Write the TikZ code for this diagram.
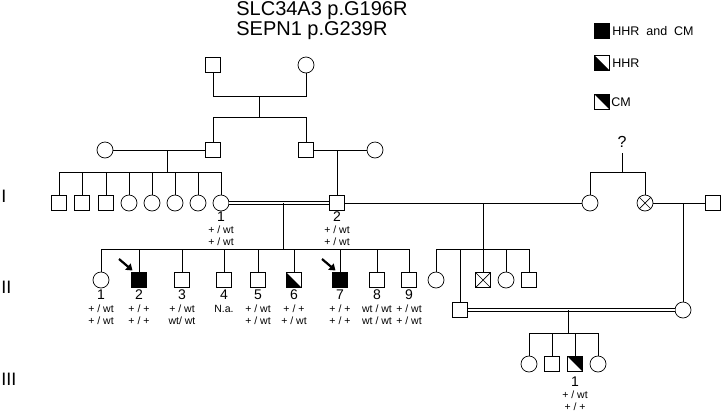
\documentclass[tikz,border=0pt]{standalone}
\usepackage{fontspec}
\setmainfont{Liberation Sans}
\usetikzlibrary{arrows.meta}
\begin{document}
\begin{tikzpicture}[x=1pt,y=-1pt,
  every path/.style={line width=0.7pt},
  sq/.style={draw, line width=0.7pt, rectangle, minimum size=15pt, inner sep=0pt, fill=white},
  ci/.style={draw, line width=0.7pt, circle, minimum size=16pt, inner sep=0pt, fill=white},
  aff/.style={sq, fill=black},
  hhr/.style={sq, path picture={\fill[black] (path picture bounding box.north west) -- (path picture bounding box.south west) -- (path picture bounding box.south east) -- cycle;}},
  cmx/.style={sq, path picture={\fill[black] (path picture bounding box.north west) -- (path picture bounding box.north east) -- (path picture bounding box.south east) -- cycle;}},
  xsq/.style={sq, path picture={\draw[black, line width=0.7pt] (path picture bounding box.north west) -- (path picture bounding box.south east) (path picture bounding box.north east) -- (path picture bounding box.south west);}},
  num/.style={font=\fontsize{14}{14}\selectfont, inner sep=0pt},
  geno/.style={font=\fontsize{10.5}{11.5}\selectfont, align=center, inner sep=0pt},
  dbl/.style={double, double distance=2.2pt, line width=0.7pt},
  ttl/.style={font=\fontsize{20}{22}\selectfont, inner sep=0pt, anchor=west},
  lgt/.style={font=\fontsize{12.5}{14}\selectfont, inner sep=0pt, anchor=west},
  gen/.style={font=\fontsize{18}{20}\selectfont, inner sep=0pt, anchor=west},
  arr/.style={line width=2.2pt, -{Triangle[length=6pt,width=8pt]}}
]
\useasboundingbox (0,0) rectangle (725,413);

% title
\node[ttl] (t1) at (236,11) {SLC34A3 p.G196R};
\node[ttl] (t2) at (236,31) {SEPN1 p.G239R};

% legend
\node[aff] (lg1) at (602,31) {};
\node[lgt] (lt1) at (612,31) {HHR\ \ and\ \ CM};
\node[hhr] (lg2) at (602,63) {};
\node[lgt] (lt2) at (612,63) {HHR};
\node[cmx] (lg3) at (602,102) {};
\node[lgt] (lt3) at (611,102) {CM};

% generation labels
\node[gen] (g1) at (1,196) {I};
\node[gen] (g2) at (1,287) {II};
\node[gen] (g3) at (1,379) {III};

% top couple
\node[sq] (gf) at (213,65) {};
\node[ci] (gm) at (306,65) {};
\coordinate (gj) at (259,96);
\coordinate (gs) at (259,117);

% grandparents row
\node[ci] (a1) at (105,150) {};
\node[sq] (a2) at (213,150) {};
\node[sq] (b1) at (306,150) {};
\node[ci] (b2) at (375,150) {};
\draw (gf) -- (gf|-gj) -- (gm|-gj) -- (gm);
\draw (gj) -- (gs);
\draw (a2|-gs) -- (b1|-gs);
\draw (a2|-gs) -- (a2);
\draw (b1|-gs) -- (b1);
\draw (a1) -- (a2);
\draw (b1) -- (b2);

% generation I
\node[sq] (s1) at (59,203) {};
\node[sq] (s2) at (82,203) {};
\node[sq] (s3) at (106,203) {};
\node[ci] (s4) at (129,203) {};
\node[ci] (s5) at (152,203) {};
\node[ci] (s6) at (175,203) {};
\node[ci] (s7) at (198,203) {};
\node[ci] (i1) at (221,203) {};
\node[sq] (i2) at (337,203) {};
\node[ci] (i3) at (590,203) {};
\node[ci] (i4) at (645,203) {};
\draw (i4.north west) -- (i4.south east) (i4.north east) -- (i4.south west);
\node[sq] (i5) at (713,203) {};

\coordinate (aj) at (167,150);
\coordinate (as) at (167,172);
\draw (aj) -- (as);
\draw (s1|-as) -- (i1|-as);
\foreach \n in {s1,s2,s3,s4,s5,s6,s7,i1} \draw (\n|-as) -- (\n);
\draw (i2|-b1) -- (i2);

\draw[dbl] (i1) -- (i2);
\draw (i2) -- (i3);
\draw (i4) -- (i5);

\node[font=\fontsize{16}{16}\selectfont, inner sep=0pt] (q) at (622,142) {?};
\coordinate (qt) at (622,153);
\coordinate (qs) at (622,172);
\draw (qt) -- (qs);
\draw (i3|-qs) -- (i4|-qs);
\draw (i3|-qs) -- (i3);
\draw (i4|-qs) -- (i4);

\node[num] (n1) at (221,217) {1};
\node[geno] (x1) at (221,235.5) {+ / wt\\+ / wt};
\node[num] (n2) at (337,217) {2};
\node[geno] (x2) at (337,235.5) {+ / wt\\+ / wt};

% generation II
\coordinate (cj) at (283,203);
\coordinate (cs) at (283,249);
\node[ci] (c1) at (101,280) {};
\node[aff] (c2) at (139,280) {};
\node[sq] (c3) at (182,280) {};
\node[sq] (c4) at (224,280) {};
\node[sq] (c5) at (258,280) {};
\node[hhr] (c6) at (294,280) {};
\node[aff] (c7) at (340,280) {};
\node[sq] (c8) at (377,280) {};
\node[sq] (c9) at (409,280) {};
\draw (cj) -- (cs);
\draw (c1|-cs) -- (c9|-cs);
\foreach \n in {c1,c2,c3,c4,c5,c6,c7,c8,c9} \draw (\n|-cs) -- (\n);

\coordinate (a2s) at (119,259);
\coordinate (a2e) at (132.5,270.5);
\draw[arr] (a2s) -- (a2e);
\coordinate (a7s) at (322,259);
\coordinate (a7e) at (335.5,270.5);
\draw[arr] (a7s) -- (a7e);

\node[num] (m1) at (101,295) {1};
\node[num] (m2) at (139,295) {2};
\node[num] (m3) at (182,295) {3};
\node[num] (m4) at (224,295) {4};
\node[num] (m5) at (258,295) {5};
\node[num] (m6) at (294,295) {6};
\node[num] (m7) at (340,295) {7};
\node[num] (m8) at (377,295) {8};
\node[num] (m9) at (409,295) {9};
\node[geno] (y1) at (101,314.5) {+ / wt\\+ / wt};
\node[geno] (y2) at (139,314.5) {+ / +\\+ / +};
\node[geno] (y3) at (182,314.5) {+ / wt\\wt/ wt};
\node[geno] (y4) at (224,309) {N.a.};
\node[geno] (y5) at (258,314.5) {+ / wt\\+ / wt};
\node[geno] (y6) at (294,314.5) {+ / +\\+ / wt};
\node[geno] (y7) at (340,314.5) {+ / +\\+ / +};
\node[geno] (y8) at (377,314.5) {wt / wt\\wt / wt};
\node[geno] (y9) at (409,314.5) {+ / wt\\+ / wt};

% second family of I-2
\coordinate (dj) at (483,203);
\coordinate (ds) at (483,249);
\node[ci] (d1) at (436,280) {};
\node[xsq] (d2) at (483,280) {};
\node[ci] (d3) at (506,280) {};
\node[sq] (d4) at (529,280) {};
\node[sq] (d5) at (460,310) {};
\draw (dj) -- (ds);
\draw (d1|-ds) -- (d4|-ds);
\foreach \n in {d1,d2,d3,d4,d5} \draw (\n|-ds) -- (\n);

\node[ci] (e1) at (683,310) {};
\draw (e1|-i4) -- (e1);
\draw[dbl] (d5) -- (e1);

% generation III
\coordinate (fj) at (568,310);
\coordinate (fs) at (568,333);
\node[ci] (f1) at (529,364) {};
\node[sq] (f2) at (552,364) {};
\node[cmx] (f3) at (575,364) {};
\node[ci] (f4) at (598,364) {};
\draw (fj) -- (fs);
\draw (f1|-fs) -- (f4|-fs);
\foreach \n in {f1,f2,f3,f4} \draw (\n|-fs) -- (\n);

\node[num] (k1) at (575,382) {1};
\node[geno] (z1) at (575,400.5) {+ / wt\\+ / +};
\end{tikzpicture}
\end{document}
